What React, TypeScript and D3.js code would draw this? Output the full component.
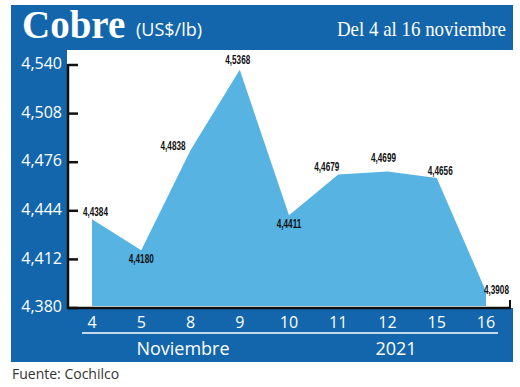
import { useMemo } from 'react';
import * as d3 from 'd3';

const days = ['4', '5', '8', '9', '10', '11', '12', '15', '16'];
const prices = [4.4384, 4.418, 4.4838, 4.5368, 4.4411, 4.4679, 4.4699, 4.4656, 4.3908];
// where each value label sits relative to its point
const labelSide = ['upRight', 'down', 'left', 'up', 'down', 'upLeft', 'upHigh', 'upRight', 'right'];
const yTickValues = [4.38, 4.412, 4.444, 4.476, 4.508, 4.54];

const W = 520;
const H = 387;
const FRAME = { left: 11, right: 513, top: 5, bottom: 362 };
const PLOT = { left: 67, top: 50, bottom: 308 };
const BLUE = '#1366ac';
const AREA = '#56b3e2';
const LABEL_SQUEEZE = 0.68;

const esLocale = d3.formatLocale({ decimal: ',', thousands: '.', grouping: [3], currency: ['', 'US$'] });
const fmt3 = esLocale.format('.3f');
const fmt4 = esLocale.format('.4f');

const OFFSETS: Record<string, { dx: number; dy: number; anchor: string }> = {
  up: { dx: -2, dy: -6, anchor: 'middle' },
  upHigh: { dx: -4, dy: -9, anchor: 'middle' },
  upRight: { dx: -9, dy: -3, anchor: 'start' },
  upLeft: { dx: 1, dy: -4, anchor: 'end' },
  down: { dx: 0, dy: 13, anchor: 'middle' },
  left: { dx: -5, dy: 0, anchor: 'end' },
  right: { dx: -2, dy: 2, anchor: 'start' },
};

export default function App() {
  const chart = useMemo(() => {
    const x = d3.scalePoint<string>().domain(days).range([92, 486]);
    const y = d3.scaleLinear().domain([4.38, 4.54]).range([PLOT.bottom, 65]);
    const area = d3
      .area<number>()
      .x((_, i) => x(days[i]) as number)
      .y0(y(4.38) - 2)
      .y1((d) => y(d));
    return { x, y, areaPath: area(prices) ?? '' };
  }, []);

  const { x, y } = chart;

  return (
    <svg
      width={W}
      height={H}
      style={{ position: 'absolute', left: 0, top: 0, background: '#fff' }}
    >
      {/* blue frame + white plot window */}
      <rect
        x={FRAME.left}
        y={FRAME.top}
        width={FRAME.right - FRAME.left}
        height={FRAME.bottom - FRAME.top}
        fill={BLUE}
      />
      <rect
        x={PLOT.left}
        y={PLOT.top}
        width={FRAME.right - PLOT.left}
        height={PLOT.bottom - PLOT.top}
        fill="#fff"
      />

      {/* title */}
      <text x={22} y={38} fill="#fff" fontFamily="Liberation Serif, serif" fontWeight="bold" fontSize={39}>
        Cobre
      </text>
      <text x={136} y={36} fill="#fff" fontFamily="Open Sans, sans-serif" fontSize={18}>
        (US$/lb)
      </text>
      <text
        transform="translate(506,36) scale(0.86,1)"
        textAnchor="end"
        fill="#fff"
        fontFamily="Liberation Serif, serif"
        fontSize={22}
      >
        Del 4 al 16 noviembre
      </text>

      {/* area */}
      <path d={chart.areaPath} fill={AREA} />

      {/* y axis */}
      <line x1={68} y1={y(4.54) - 1} x2={68} y2={PLOT.bottom + 1} stroke="#111" strokeWidth={2.5} />
      {yTickValues.map((v) => (
        <g key={v}>
          <line x1={68} y1={y(v)} x2={78} y2={y(v)} stroke="#111" strokeWidth={2.5} />
          <text
            x={62}
            y={y(v)}
            textAnchor="end"
            dominantBaseline="middle"
            fill="#fff"
            fontFamily="Open Sans, sans-serif"
            fontSize={16}
          >
            {fmt3(v)}
          </text>
        </g>
      ))}

      {/* x axis */}
      <line x1={67} y1={PLOT.bottom} x2={510} y2={PLOT.bottom} stroke="#111" strokeWidth={2.5} />
      <line x1={510} y1={PLOT.bottom + 1} x2={510} y2={PLOT.bottom - 8} stroke="#111" strokeWidth={2} />
      {days.map((d) => (
        <text
          key={d}
          x={x(d)}
          y={328}
          textAnchor="middle"
          fill="#fff"
          fontFamily="Open Sans, sans-serif"
          fontSize={16}
        >
          {d}
        </text>
      ))}
      <line x1={82} y1={333} x2={498} y2={333} stroke="#fff" strokeWidth={1.5} />
      <text x={183} y={355} textAnchor="middle" fill="#fff" fontFamily="Open Sans, sans-serif" fontSize={18}>
        Noviembre
      </text>
      <text x={396} y={355} textAnchor="middle" fill="#fff" fontFamily="Open Sans, sans-serif" fontSize={18}>
        2021
      </text>

      {/* value labels */}
      {prices.map((v, i) => {
        const o = OFFSETS[labelSide[i]];
        const lx = (x(days[i]) as number) + o.dx;
        const ly = y(v) + o.dy;
        return (
          <text
            key={i}
            transform={`translate(${lx},${ly}) scale(${LABEL_SQUEEZE},1)`}
            textAnchor={o.anchor}
            fill="#111"
            fontFamily="Liberation Sans, Arial, sans-serif"
            fontWeight="bold"
            fontSize={12}
          >
            {fmt4(v)}
          </text>
        );
      })}

      <text x={12} y={379} fill="#333" fontFamily="Open Sans, sans-serif" fontSize={14}>
        Fuente: Cochilco
      </text>
    </svg>
  );
}
